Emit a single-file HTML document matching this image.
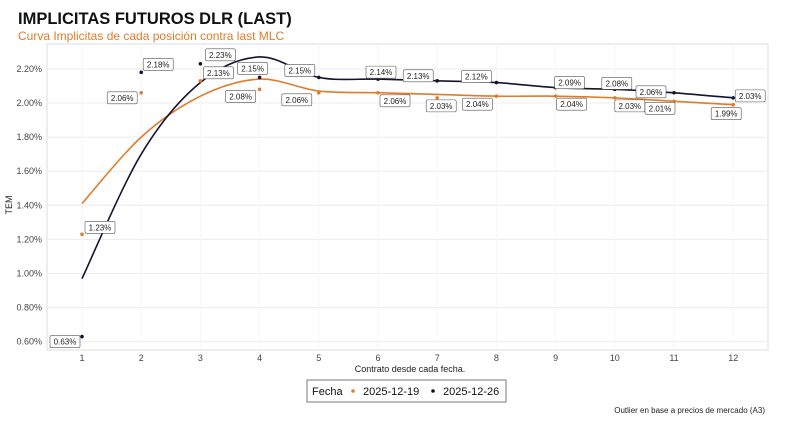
<!DOCTYPE html>
<html><head><meta charset="utf-8"><style>
body{margin:0;background:#fff;width:800px;height:439px;overflow:hidden;font-family:"Liberation Sans",sans-serif}
svg text{font-family:"Liberation Sans",sans-serif}
</style></head><body>
<svg id="chart" width="800" height="439">
<text x="18" y="24" font-size="16.5" font-weight="bold" fill="#111">IMPLICITAS FUTUROS DLR (LAST)</text>
<text x="18" y="40" font-size="12" fill="#e07b2a">Curva Implicitas de cada posición contra last MLC</text>
<rect x="47" y="44" width="721" height="306" fill="none" stroke="#ddd"/>
<g id="grid"></g><g id="yticks"></g><g id="xticks"></g>
<g id="lines"></g><g id="points"></g><g id="labels"></g>
<text x="12" y="205" font-size="9" fill="#222" transform="rotate(-90 12 205)" text-anchor="middle">TEM</text>
<text x="410" y="372" font-size="9" fill="#222" text-anchor="middle">Contrato desde cada fecha.</text>
<g>
<rect x="307" y="380" width="199" height="22" fill="#fff" stroke="#777"/>
<text x="312" y="395" font-size="11" fill="#111">Fecha</text>
<circle cx="353" cy="391" r="1.8" fill="#e07b2a"/>
<text x="363" y="395" font-size="11" fill="#111">2025-12-19</text>
<circle cx="433" cy="391" r="1.8" fill="#111"/>
<text x="443" y="395" font-size="11" fill="#111">2025-12-26</text>
</g>
<text x="765" y="413" font-size="8" fill="#222" text-anchor="end">Outlier en base a precios de mercado (A3)</text>
</svg>
<script>
const contracts=[1,2,3,4,5,6,7,8,9,10,11,12];
const orangeValues=[1.23,2.06,2.13,2.08,2.06,2.06,2.03,2.04,2.04,2.03,2.01,1.99];
const blackValues=[0.63,2.18,2.23,2.15,2.15,2.14,2.13,2.12,2.09,2.08,2.06,2.03];
const orangeFit=[1.41,1.80,2.04,2.14,2.07,2.06,2.05,2.04,2.04,2.03,2.01,1.99];
const blackFit=[0.97,1.70,2.12,2.27,2.15,2.14,2.13,2.12,2.09,2.08,2.06,2.03];
const yTicks=[0.6,0.8,1.0,1.2,1.4,1.6,1.8,2.0,2.2];
const xTicks=[1,2,3,4,5,6,7,8,9,10,11,12];
const orangeNudge=[[18,-7],[-19,5],[18,-8],[-19,7],[-22,7],[17,8],[4,8],[-19,8],[16,8],[15,8],[-14,7],[-7,9]];
const blackNudge=[[-17,5],[17,-8],[20,-9],[-7,-9],[-19,-7],[3,-7],[-19,-5],[-20,-6],[14,-5],[2,-6],[-23,-1],[17,-2]];
const NS="http://www.w3.org/2000/svg";
const X=c=>82+(c-1)*59.2;
const Y=v=>103-(v-2.0)/0.2*34.1;
function mk(t,a,p){const e=document.createElementNS(NS,t);for(const k in a)e.setAttribute(k,a[k]);document.getElementById(p).appendChild(e);return e;}
yTicks.forEach(v=>{
 const g=mk('line',{x1:47,x2:768,y1:Y(v),y2:Y(v),stroke:'#ececec'},'grid');
 
 
 const t=mk('text',{x:42,y:Y(v)+3,'font-size':9,fill:'#444','text-anchor':'end'},'yticks');
 t.textContent=v.toFixed(2)+'%';
 
 
});
xTicks.forEach(c=>{
 const g=mk('line',{x1:X(c),x2:X(c),y1:44,y2:350,stroke:'#f6f6f6'},'grid');
 
 
 const t=mk('text',{x:X(c),y:361,'font-size':9,fill:'#444','text-anchor':'middle'},'xticks');
 t.textContent=c;
 
 
});
function spline(vals){
 const p=vals.map((v,i)=>[X(contracts[i]),Y(v)]);
 let d='M'+p[0][0]+','+p[0][1];
 for(let i=0;i<p.length-1;i++){
  const p0=p[Math.max(i-1,0)],p1=p[i],p2=p[i+1],p3=p[Math.min(i+2,p.length-1)];
  d+=' C'+(p1[0]+(p2[0]-p0[0])/6)+','+(p1[1]+(p2[1]-p0[1])/6)+' '+(p2[0]-(p3[0]-p1[0])/6)+','+(p2[1]-(p3[1]-p1[1])/6)+' '+p2[0]+','+p2[1];
 }
 return d;
}
function series(vals,fit,nudge,color,name){
 const l=mk('path',{d:spline(fit),fill:'none',stroke:color,'stroke-width':1.6},'lines');
 
 
 vals.forEach((v,i)=>{
  const c=mk('circle',{cx:X(contracts[i]),cy:Y(v),r:1.8,fill:color},'points');
  
  
  const txt=v.toFixed(2)+'%';
  const cx=X(contracts[i])+nudge[i][0],cy=Y(v)+nudge[i][1];
  const r=mk('rect',{x:cx-15,y:cy-6,width:30,height:12,rx:1.5,fill:'#fff',stroke:'#555','stroke-width':0.6},'labels');
  
  
  const t=mk('text',{x:cx,y:cy+3,'font-size':8,fill:'#222','text-anchor':'middle'},'labels');
  t.textContent=txt;
  
  
 });
}
series(orangeValues,orangeFit,orangeNudge,'#e07b2a','series-2025-12-19');
series(blackValues,blackFit,blackNudge,'#14142e','series-2025-12-26');
</script>
</body></html>
